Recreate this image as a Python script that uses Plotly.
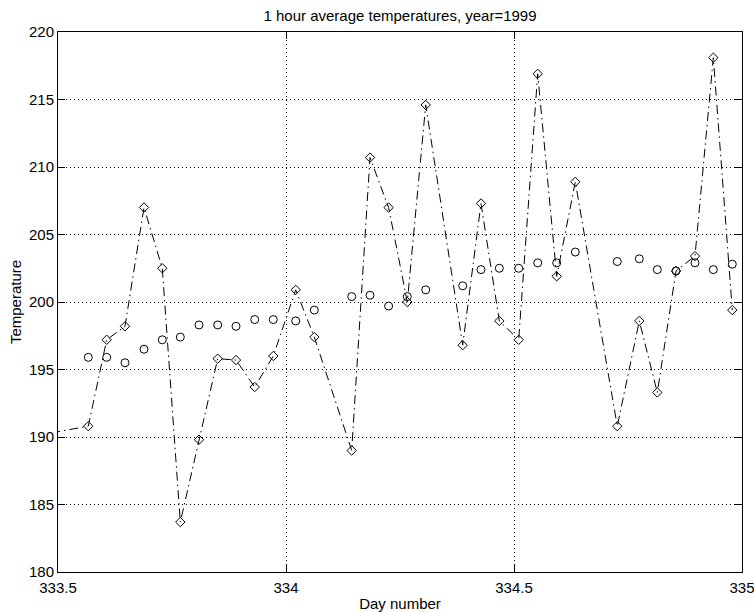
import plotly.graph_objects as go

# ---- data ----
day_number = [333.485, 333.5664, 333.6068, 333.6469, 333.6886, 333.7287, 333.7682,
              333.8092, 333.8502, 333.8904, 333.9314, 333.9721, 334.0213, 334.0621,
              334.1441, 334.1842, 334.2250, 334.2660, 334.3064, 334.3875, 334.4276,
              334.4678, 334.5103, 334.5520, 334.5936, 334.6344, 334.7265, 334.7748,
              334.8143, 334.8553, 334.8969, 334.9371, 334.9787]

temp_raw = [190.3, 190.8, 197.2, 198.2, 207.0, 202.5, 183.7, 189.8, 195.8, 195.7,
            193.7, 196.0, 200.9, 197.4, 189.0, 210.7, 207.0, 200.0, 214.6, 196.8,
            207.3, 198.6, 197.2, 216.9, 201.9, 208.9, 190.8, 198.6, 193.3, 202.3,
            203.4, 218.1, 199.4]

temp_avg = [None, 195.9, 195.9, 195.5, 196.5, 197.2, 197.4, 198.3, 198.3, 198.2,
            198.7, 198.7, 198.6, 199.4, 200.4, 200.5, 199.7, 200.4, 200.9, 201.2,
            202.4, 202.5, 202.5, 202.9, 202.9, 203.7, 203.0, 203.2, 202.4, 202.3,
            202.9, 202.4, 202.8]

x_ticks = [333.5, 334, 334.5, 335]
x_tick_labels = ["333.5", "334", "334.5", "335"]
y_ticks = [180, 185, 190, 195, 200, 205, 210, 215, 220]
y_tick_labels = ["180", "185", "190", "195", "200", "205", "210", "215", "220"]

FONT = "Liberation Sans, Arial, Helvetica, sans-serif"

fig = go.Figure()
fig.add_trace(go.Scatter(
    x=day_number, y=temp_raw, mode="lines+markers",
    line=dict(color="black", width=1, dash="9px,4px,1.5px,4px"),
    marker=dict(symbol="diamond-open", size=7.2, color="black",
                line=dict(color="black", width=1)),
    showlegend=False,
))
fig.add_trace(go.Scatter(
    x=day_number, y=temp_avg, mode="markers",
    marker=dict(symbol="circle-open", size=8, color="black",
                line=dict(color="black", width=1)),
    showlegend=False,
))

axis_common = dict(
    showline=True, linecolor="black", linewidth=1, mirror="ticks",
    ticks="inside", ticklen=7, tickwidth=1, tickcolor="black",
    showgrid=True, gridcolor="black", gridwidth=1, griddash="1px,3px",
    zeroline=False, automargin=False, ticklabeloverflow="allow",
    tickfont=dict(family=FONT, size=15, color="black"),
)

fig.update_xaxes(range=[333.5, 335], tickmode="array", tickvals=x_ticks,
                 ticktext=x_tick_labels, ticklabelstandoff=2,
                 title=dict(text="Day number", font=dict(family=FONT, size=15, color="black"),
                            standoff=7),
                 **axis_common)
fig.update_yaxes(range=[180, 220], tickmode="array", tickvals=y_ticks,
                 ticktext=y_tick_labels,
                 title=dict(text="Temperature", font=dict(family=FONT, size=15, color="black"),
                            standoff=3),
                 **axis_common)

fig.update_layout(
    width=754, height=612,
    margin=dict(l=58, r=12, t=32, b=40, pad=0),
    plot_bgcolor="white", paper_bgcolor="white",
    title=dict(text="1 hour average temperatures, year=1999",
               font=dict(family=FONT, size=15, color="black"),
               x=0.5, xref="paper", xanchor="center",
               y=1 - 15.5 / 612, yref="container", yanchor="middle"),
)

fig.write_html("out.html")
